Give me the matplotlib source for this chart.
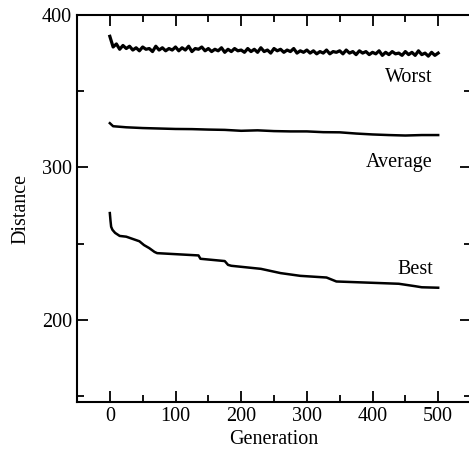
import numpy as np
import matplotlib.pyplot as plt
from matplotlib.ticker import MultipleLocator

plt.rcParams['font.family'] = ['Liberation Serif', 'DejaVu Serif']
plt.rcParams['font.size'] = 14.5

# worst tour length, sampled every 5 generations
worst = [386, 379, 381, 377.5, 380, 378, 379.5, 377, 378.5, 376.5,
         379, 377.5, 378, 376, 379.5, 377, 378.5, 376.5, 378, 377,
         379, 376.5, 378.5, 377, 379.5, 376, 378, 377.5, 379, 376.5,
         378, 376, 377.5, 376.5, 378.5, 375.5, 377.5, 376, 378, 376.5,
         377, 375.5, 378, 376, 377.5, 375.5, 378.5, 376, 377, 375,
         378, 376.5, 377.5, 375.5, 377, 376, 378, 375, 376.5, 375.5,
         377, 375, 376.5, 374.5, 376, 375, 377, 374.5, 376, 375.5,
         376.5, 374.5, 377, 375, 376, 374, 376.5, 375, 376, 374,
         375.5, 374.5, 376.5, 373.5, 375.5, 374, 376, 374.5, 375, 373.5,
         376, 374, 375.5, 373.5, 376.5, 374, 375, 373, 375.5, 373.5,
         375]
worst_gen = np.arange(len(worst)) * 5

avg_gen = [0, 5, 25, 50, 75, 100, 125, 150, 175, 200, 225, 250, 275,
           300, 325, 350, 375, 400, 425, 450, 475, 500]
avg_val = [329, 327, 326.3, 325.8, 325.5, 325.2, 325.1, 324.8, 324.6, 324,
           324.3, 323.8, 323.6, 323.6, 323.1, 323.0, 322.2, 321.6, 321.2,
           320.9, 321.2, 321.2]

best_gen = [0, 1, 2, 4, 8, 15, 25, 35, 45, 52, 60, 68, 72, 135, 138, 175,
            180, 185, 230, 260, 290, 330, 345, 440, 465, 475, 500]
best_val = [270, 265, 261, 259, 257, 255, 254.5, 253, 251.5, 249, 247, 244.5,
            243.7, 242.2, 240, 238.5, 236, 235.4, 233.4, 230.6, 228.8, 227.7,
            225.1, 223.6, 222, 221.3, 221]

fig = plt.figure(figsize=(4.69, 4.57), dpi=100)
ax = fig.add_axes([77 / 469, 55 / 457, 394 / 469, 387 / 457])

ax.plot(worst_gen, worst, color='black', lw=2.3)
ax.plot(avg_gen, avg_val, color='black', lw=1.8)
ax.plot(best_gen, best_val, color='black', lw=1.8)

ax.text(492, 359, 'Worst', ha='right', va='center')
ax.text(492, 303, 'Average', ha='right', va='center')
ax.text(492, 233, 'Best', ha='right', va='center')

ax.set_xlim(-50, 550)
ax.set_ylim(146, 400)
ax.xaxis.set_major_locator(MultipleLocator(100))
ax.xaxis.set_minor_locator(MultipleLocator(50))
ax.yaxis.set_major_locator(MultipleLocator(100))
ax.yaxis.set_minor_locator(MultipleLocator(50))
ax.set_xticks([0, 100, 200, 300, 400, 500])
ax.tick_params(which='both', direction='in', top=True, right=True, width=1.3)
ax.tick_params(which='major', length=8)
ax.tick_params(which='minor', length=5)
for s in ax.spines.values():
    s.set_linewidth(1.5)

ax.set_xlabel('Generation', labelpad=3)
ax.set_ylabel('Distance', labelpad=8)

fig.savefig('out.png', dpi=100)
